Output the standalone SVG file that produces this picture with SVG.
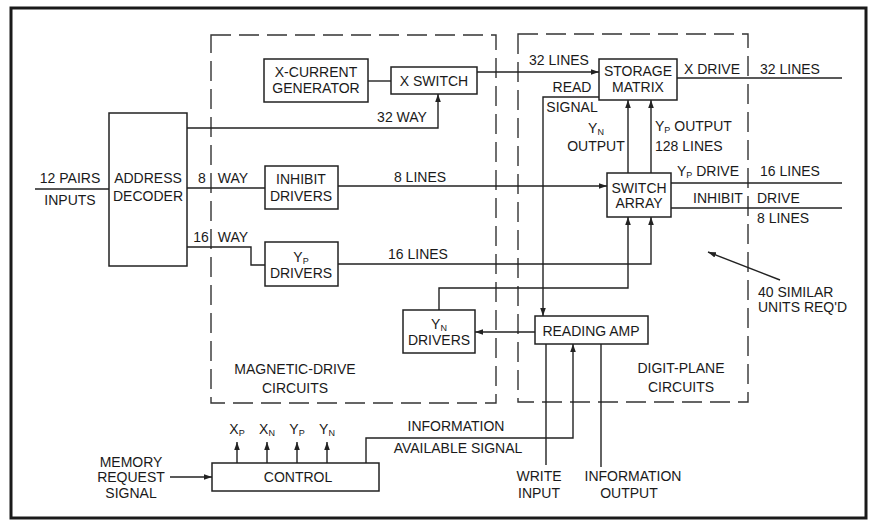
<svg xmlns="http://www.w3.org/2000/svg" width="875" height="522" viewBox="0 0 875 522">
<style>
.t{font-family:"Liberation Sans",Arial,sans-serif;font-size:14px;fill:#1a1a1a;text-anchor:middle}
.s{font-size:9px}
.box{fill:#fff;stroke:#222;stroke-width:1.5}
.ln{fill:none;stroke:#222;stroke-width:1.4}
.dash{fill:none;stroke:#333;stroke-width:1.4;stroke-dasharray:20 8}
.frame{fill:#fff;stroke:#1a1a1a;stroke-width:3}
</style>
<defs>
<marker id="ah" viewBox="0 0 10 10" refX="10" refY="5" markerWidth="8" markerHeight="8" orient="auto" markerUnits="userSpaceOnUse">
<path d="M0,1.5 L10,5 L0,8.5 z" fill="#222"/>
</marker>
</defs>
<rect class="frame" x="11" y="8" width="855" height="510"/>
<g id="regions">
<rect class="dash" x="211" y="35" width="285" height="368"/>
<rect class="dash" x="518" y="34" width="230" height="368"/>
</g>
<g id="connectors">
<path class="ln" d="M35,189 H109"/>
<path class="ln" d="M187,128 H438 V94" marker-end="url(#ah)"/>
<path class="ln" d="M368,81 H391"/>
<path class="ln" d="M477,72 H599" marker-end="url(#ah)"/>
<path class="ln" d="M187,188 H265"/>
<path class="ln" d="M187,247 H251 V265 H265"/>
<path class="ln" d="M338,186 H607" marker-end="url(#ah)"/>
<path class="ln" d="M338,264 H651 V217" marker-end="url(#ah)"/>
<path class="ln" d="M439,310 V288 H628 V217" marker-end="url(#ah)"/>
<path class="ln" d="M628,173 V100" marker-end="url(#ah)"/>
<path class="ln" d="M651,173 V100" marker-end="url(#ah)"/>
<path class="ln" d="M677,78 H842"/>
<path class="ln" d="M671,183 H842"/>
<path class="ln" d="M671,208 H842"/>
<path class="ln" d="M599,97 H543 V316" marker-end="url(#ah)"/>
<path class="ln" d="M535,332 H475" marker-end="url(#ah)"/>
<path class="ln" d="M546,344 V465"/>
<path class="ln" d="M601,344 V467"/>
<path class="ln" d="M366,463 V438 H573 V344" marker-end="url(#ah)"/>
<path class="ln" d="M170,477 H212" marker-end="url(#ah)"/>
<path class="ln" d="M237,463 V442" marker-end="url(#ah)"/>
<path class="ln" d="M267,463 V442" marker-end="url(#ah)"/>
<path class="ln" d="M297,463 V442" marker-end="url(#ah)"/>
<path class="ln" d="M327,463 V442" marker-end="url(#ah)"/>
<path class="ln" d="M780,280 L708,252" marker-end="url(#ah)"/>
</g>
<g id="address-decoder">
<rect class="box" x="109" y="113" width="78" height="153"/>
<text class="t" x="148" y="183">ADDRESS</text>
<text class="t" x="148" y="201">DECODER</text>
</g>
<g id="x-current-generator">
<rect class="box" x="264" y="59" width="104" height="43"/>
<text class="t" x="316" y="77">X-CURRENT</text>
<text class="t" x="316" y="93">GENERATOR</text>
</g>
<g id="x-switch">
<rect class="box" x="391" y="67" width="86" height="27"/>
<text class="t" x="434" y="86">X SWITCH</text>
</g>
<g id="inhibit-drivers">
<rect class="box" x="265" y="166" width="73" height="43"/>
<text class="t" x="301" y="184">INHIBIT</text>
<text class="t" x="301" y="201">DRIVERS</text>
</g>
<g id="yp-drivers">
<rect class="box" x="265" y="242" width="73" height="44"/>
<text class="t" x="301" y="262">Y<tspan class="s" dy="2">P</tspan></text>
<text class="t" x="301" y="278">DRIVERS</text>
</g>
<g id="yn-drivers">
<rect class="box" x="403" y="310" width="72" height="43"/>
<text class="t" x="439" y="329">Y<tspan class="s" dy="2">N</tspan></text>
<text class="t" x="439" y="345">DRIVERS</text>
</g>
<g id="storage-matrix">
<rect class="box" x="599" y="59" width="78" height="41"/>
<text class="t" x="638" y="76">STORAGE</text>
<text class="t" x="638" y="92">MATRIX</text>
</g>
<g id="switch-array">
<rect class="box" x="607" y="173" width="64" height="44"/>
<text class="t" x="639" y="193">SWITCH</text>
<text class="t" x="639" y="208">ARRAY</text>
</g>
<g id="reading-amp">
<rect class="box" x="535" y="316" width="113" height="28"/>
<text class="t" x="591" y="336">READING AMP</text>
</g>
<g id="control">
<rect class="box" x="212" y="463" width="167" height="28"/>
<text class="t" x="298" y="482">CONTROL</text>
</g>
<g id="labels">
<text class="t" x="70" y="183">12 PAIRS</text>
<text class="t" x="70" y="205">INPUTS</text>
<text class="t" x="202" y="183">8</text>
<text class="t" x="233" y="183">WAY</text>
<text class="t" x="201" y="242">16</text>
<text class="t" x="233" y="242">WAY</text>
<text class="t" x="402" y="122">32 WAY</text>
<text class="t" x="420" y="182">8 LINES</text>
<text class="t" x="418" y="259">16 LINES</text>
<text class="t" x="559" y="65">32 LINES</text>
<text class="t" x="572" y="92">READ</text>
<text class="t" x="572" y="112">SIGNAL</text>
<text class="t" x="596" y="133">Y<tspan class="s" dy="2">N</tspan></text>
<text class="t" x="596" y="151">OUTPUT</text>
<text class="t" x="696" y="131" style="text-anchor:start" transform="translate(-41,0)">Y<tspan class="s" dy="2">P</tspan><tspan dy="-2"> OUTPUT</tspan></text>
<text class="t" x="655" y="151" style="text-anchor:start">128 LINES</text>
<text class="t" x="712" y="74">X DRIVE</text>
<text class="t" x="790" y="74">32 LINES</text>
<text class="t" x="677" y="176" style="text-anchor:start">Y<tspan class="s" dy="2">P</tspan><tspan dy="-2"> DRIVE</tspan></text>
<text class="t" x="790" y="176">16 LINES</text>
<text class="t" x="718" y="203">INHIBIT</text>
<text class="t" x="757" y="203" style="text-anchor:start">DRIVE</text>
<text class="t" x="757" y="223" style="text-anchor:start">8 LINES</text>
<text class="t" x="758" y="297" style="text-anchor:start">40 SIMILAR</text>
<text class="t" x="758" y="312" style="text-anchor:start">UNITS REQ'D</text>
<text class="t" x="295" y="374">MAGNETIC-DRIVE</text>
<text class="t" x="295" y="393">CIRCUITS</text>
<text class="t" x="681" y="373">DIGIT-PLANE</text>
<text class="t" x="681" y="392">CIRCUITS</text>
<text class="t" x="237" y="434">X<tspan class="s" dy="2">P</tspan></text>
<text class="t" x="267" y="434">X<tspan class="s" dy="2">N</tspan></text>
<text class="t" x="297" y="434">Y<tspan class="s" dy="2">P</tspan></text>
<text class="t" x="327" y="434">Y<tspan class="s" dy="2">N</tspan></text>
<text class="t" x="456" y="431">INFORMATION</text>
<text class="t" x="458" y="453">AVAILABLE SIGNAL</text>
<text class="t" x="131" y="467">MEMORY</text>
<text class="t" x="131" y="482">REQUEST</text>
<text class="t" x="131" y="498">SIGNAL</text>
<text class="t" x="539" y="481">WRITE</text>
<text class="t" x="539" y="498">INPUT</text>
<text class="t" x="633" y="481">INFORMATION</text>
<text class="t" x="629" y="498">OUTPUT</text>
</g>
</svg>
